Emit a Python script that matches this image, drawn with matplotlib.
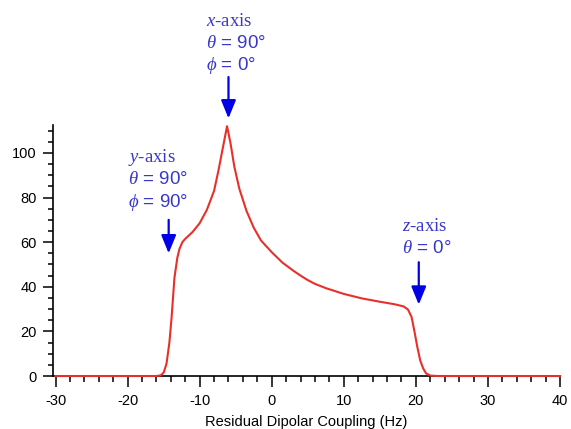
import matplotlib.pyplot as plt
from matplotlib.ticker import MultipleLocator

plt.rcParams['font.family'] = ['Liberation Sans', 'DejaVu Sans']
plt.rcParams['mathtext.fontset'] = 'custom'
plt.rcParams['mathtext.it'] = 'Liberation Serif:italic'
plt.rcParams['axes.unicode_minus'] = False

# residual dipolar coupling (Hz) vs intensity
rdc = [-30, -16, -15.4, -15.0, -14.6, -14.2, -13.9, -13.5, -13.1, -12.8, -12.4,
       -12.0, -11.0, -10.0, -9.0, -8.0, -7.4, -6.8, -6.2, -5.7, -5.2, -4.5,
       -3.5, -2.5, -1.5, 0, 1.5, 3, 4, 5, 6, 7.5, 10, 12.5, 15, 17, 18.3, 18.9,
       19.4, 19.8, 20.2, 20.6, 21.0, 21.4, 22, 23, 40]
intensity = [0, 0, 0.3, 1.5, 5.5, 15, 26, 44, 53, 57, 60,
             61.5, 64.5, 68.5, 74.5, 83, 92, 102, 112, 104, 94, 84,
             74, 66.5, 60.8, 55.5, 50.8, 47.2, 45, 43, 41.3, 39.4, 36.8, 34.8, 33.3, 32.2, 31.2, 29.8,
             26.5, 20, 13, 7, 3.5, 1.2, 0.2, 0, 0]

xticks = [-30, -20, -10, 0, 10, 20, 30, 40]
yticks = [0, 20, 40, 60, 80, 100]

text_blue = '#3838cc'
arrow_blue = '#0000e6'

fig = plt.figure(figsize=(5.71, 4.29), dpi=100)
ax = fig.add_axes([0.0928, 0.1235, 0.888, 0.585])

ax.plot(rdc, intensity, color='#e8302a', lw=1.5, clip_on=False, zorder=3)

ax.set_xlim(-30.35, 40)
ax.set_ylim(0, 112.5)
ax.set_xticks(xticks)
ax.set_yticks(yticks)
ax.xaxis.set_minor_locator(MultipleLocator(2))
ax.yaxis.set_minor_locator(MultipleLocator(5))

for s in ['top', 'right']:
    ax.spines[s].set_visible(False)
for s in ['left', 'bottom']:
    ax.spines[s].set_linewidth(1.2)

ax.tick_params(axis='both', which='both', direction='out', width=1.1, labelsize=10.5)
ax.tick_params(axis='y', which='major', length=7.2, pad=4.5)
ax.tick_params(axis='y', which='minor', length=3.3)
ax.tick_params(axis='x', which='major', length=8, pad=5)
ax.tick_params(axis='x', which='minor', length=4.3)

ax.set_xlabel('Residual Dipolar Coupling (Hz)', fontsize=10.5, labelpad=5)


def note(lines, x_text, y_top, x_arrow, y_tail, y_tip):
    for i, ln in enumerate(lines):
        fam = ['Liberation Serif'] if i == 0 else ['Liberation Sans']
        ax.text(x_text, y_top - i * 10.0, ln, color=text_blue, fontsize=13.5,
                family=fam, ha='left', va='center', clip_on=False)
    ax.annotate('', xy=(x_arrow, y_tip), xytext=(x_arrow, y_tail),
                annotation_clip=False,
                arrowprops=dict(arrowstyle='-|>,head_length=1.1,head_width=0.45',
                                color=arrow_blue, lw=1.6, shrinkA=0, shrinkB=0))


note([r'$x$-axis', r'$\theta$ = 90°', r'$\phi$ = 0°'], -9.1, 159, -6.0, 134, 115.5)
note([r'$y$-axis', r'$\theta$ = 90°', r'$\phi$ = 90°'], -20.0, 98, -14.3, 70, 55)
note([r'$z$-axis', r'$\theta$ = 0°'], 18.1, 67, 20.4, 51, 32)

fig.savefig('out.png', dpi=100)
